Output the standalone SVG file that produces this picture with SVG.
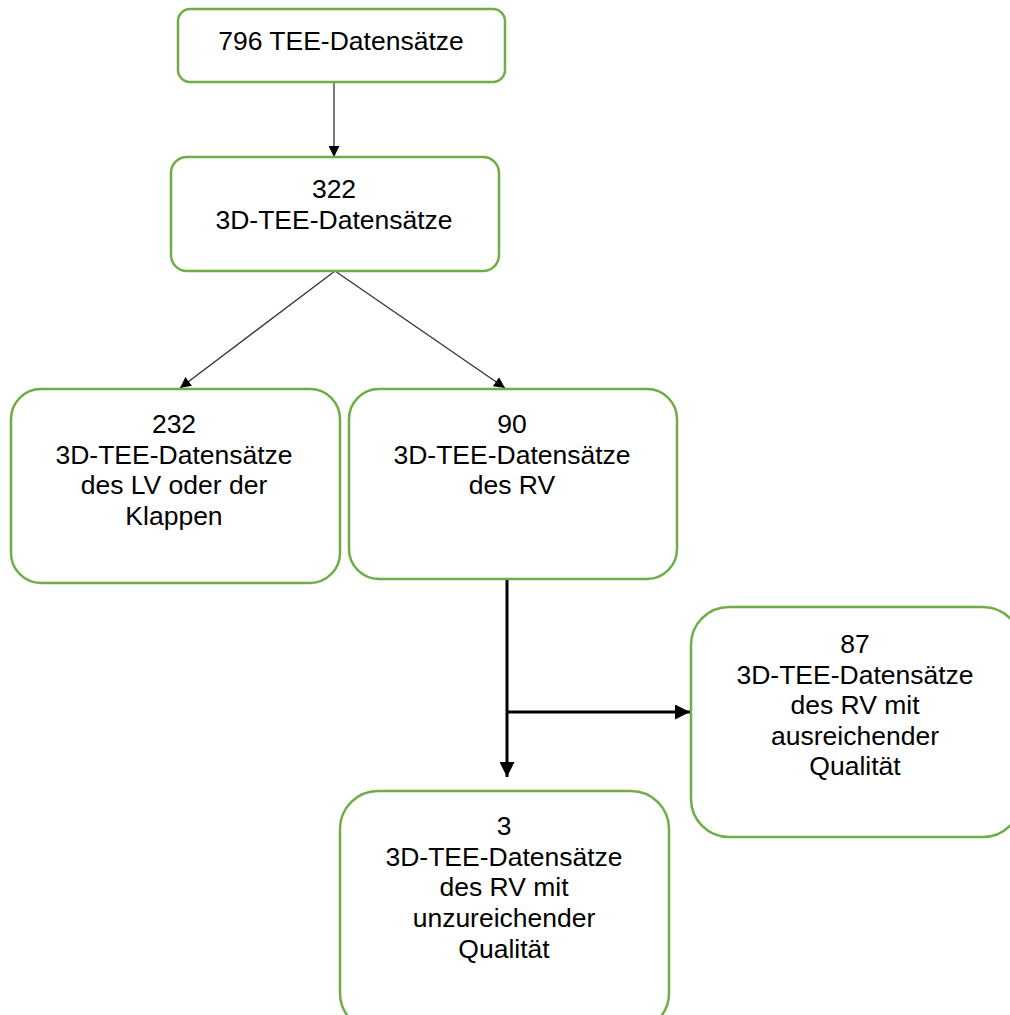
<svg xmlns="http://www.w3.org/2000/svg" width="1010" height="1015" viewBox="0 0 1010 1015">
<defs>
<marker id="ah" viewBox="0 0 10 10" refX="10" refY="5" markerWidth="11" markerHeight="11" markerUnits="userSpaceOnUse" orient="auto">
<path d="M0,0 L10,5 L0,10 Z" fill="#000"/>
</marker>
<marker id="ahb" viewBox="0 0 10 10" refX="10" refY="5" markerWidth="15" markerHeight="15" markerUnits="userSpaceOnUse" orient="auto">
<path d="M0,0 L10,5 L0,10 Z" fill="#000"/>
</marker>
</defs>
<style>
.box{fill:#fff;stroke:#70AD47;stroke-width:2.5}
.t{font-family:"Liberation Sans",Arial,sans-serif;font-size:26.5px;fill:#000;text-anchor:middle}
.thin{stroke:#333;stroke-width:1.3;fill:none}
.thick{stroke:#000;stroke-width:3;fill:none}
</style>
<rect width="1010" height="1015" fill="#fff"/>
<g id="connectors">
<line class="thin" x1="334" y1="82" x2="334" y2="157" marker-end="url(#ah)"/>
<line class="thin" x1="335" y1="271" x2="180" y2="388" marker-end="url(#ah)"/>
<line class="thin" x1="335" y1="271" x2="505" y2="388" marker-end="url(#ah)"/>
<line class="thick" x1="507" y1="579" x2="507" y2="777" marker-end="url(#ahb)"/>
<line class="thick" x1="507" y1="712" x2="690" y2="712" marker-end="url(#ahb)"/>
</g>
<g id="n796">
<rect class="box" x="178" y="9" width="327" height="73" rx="12"/>
<text class="t" x="341" y="50">796 TEE-Datensätze</text>
</g>
<g id="n322">
<rect class="box" x="171" y="157" width="328" height="114" rx="16"/>
<text class="t" x="334" y="198">322</text>
<text class="t" x="334" y="229">3D-TEE-Datensätze</text>
</g>
<g id="n232">
<rect class="box" x="11" y="389" width="329" height="194" rx="30"/>
<text class="t" x="174" y="433">232</text>
<text class="t" x="174" y="464">3D-TEE-Datensätze</text>
<text class="t" x="174" y="494">des LV oder der</text>
<text class="t" x="174" y="525">Klappen</text>
</g>
<g id="n90">
<rect class="box" x="349" y="389" width="328" height="190" rx="30"/>
<text class="t" x="512" y="433">90</text>
<text class="t" x="512" y="464">3D-TEE-Datensätze</text>
<text class="t" x="512" y="494">des RV</text>
</g>
<g id="n87">
<rect class="box" x="691" y="607" width="330" height="230" rx="38"/>
<text class="t" x="855" y="653">87</text>
<text class="t" x="855" y="684">3D-TEE-Datensätze</text>
<text class="t" x="855" y="714">des RV mit</text>
<text class="t" x="855" y="745">ausreichender</text>
<text class="t" x="855" y="775">Qualität</text>
</g>
<g id="n3">
<rect class="box" x="340" y="791" width="329" height="240" rx="38"/>
<text class="t" x="504" y="835">3</text>
<text class="t" x="504" y="866">3D-TEE-Datensätze</text>
<text class="t" x="504" y="896">des RV mit</text>
<text class="t" x="504" y="927">unzureichender</text>
<text class="t" x="504" y="958">Qualität</text>
</g>
</svg>
